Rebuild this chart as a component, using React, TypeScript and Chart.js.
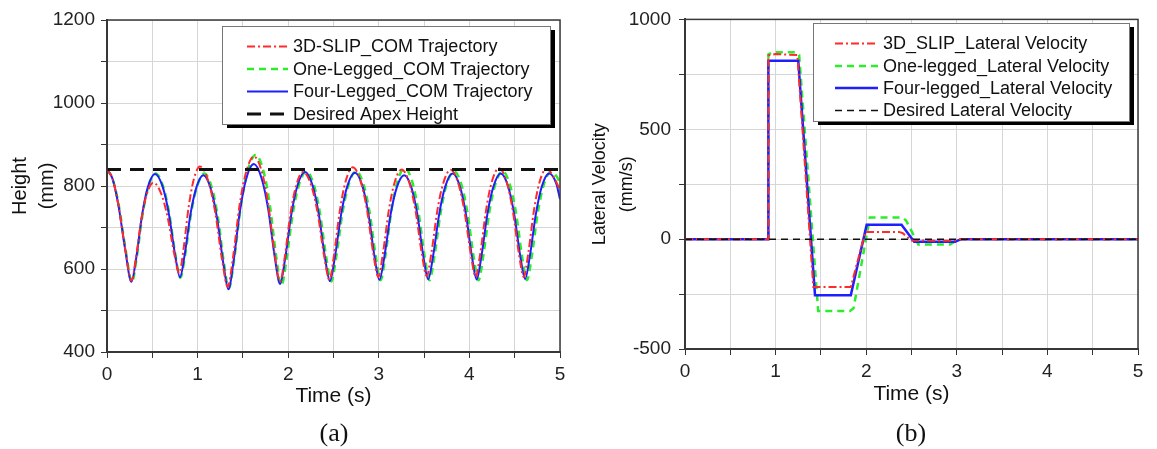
import React, { useEffect, useRef } from 'react';
import { Chart, registerables } from 'chart.js';

Chart.register(...registerables);

// ---------- (a) COM height ----------
const slipT = [0, 0.06, 0.125, 0.2, 0.27, 0.318, 0.378, 0.439, 0.511, 0.597, 0.669, 0.741, 0.798, 0.844, 0.901, 0.958, 1.026, 1.118, 1.194, 1.271, 1.332, 1.39, 1.462, 1.535, 1.622, 1.708, 1.78, 1.852, 1.91, 1.961, 2.025, 2.089, 2.165, 2.252, 2.325, 2.397, 2.455, 2.506, 2.571, 2.635, 2.712, 2.797, 2.868, 2.938, 2.995, 3.046, 3.111, 3.175, 3.252, 3.335, 3.404, 3.473, 3.528, 3.581, 3.647, 3.713, 3.792, 3.875, 3.944, 4.014, 4.069, 4.121, 4.185, 4.25, 4.327, 4.409, 4.477, 4.545, 4.6, 4.65, 4.713, 4.775, 4.85, 4.93, 5.0];
const slipH = [840, 818, 755, 650, 572, 624, 718, 780, 808, 782, 725, 638, 590, 647, 749, 816, 847, 812, 737, 621, 557, 626, 752, 833, 871, 835, 756, 635, 569, 627, 733, 802, 834, 803, 735, 631, 574, 634, 742, 812, 845, 813, 745, 639, 581, 638, 742, 809, 840, 809, 742, 640, 583, 639, 742, 808, 839, 808, 741, 638, 581, 639, 743, 812, 843, 812, 743, 639, 581, 638, 742, 810, 841, 822, 790];

const oneLegT = [0, 0.06, 0.128, 0.205, 0.275, 0.327, 0.392, 0.457, 0.535, 0.618, 0.686, 0.755, 0.81, 0.863, 0.929, 0.996, 1.075, 1.156, 1.224, 1.291, 1.345, 1.404, 1.478, 1.552, 1.64, 1.726, 1.797, 1.868, 1.925, 1.98, 2.049, 2.118, 2.2, 2.283, 2.351, 2.42, 2.475, 2.53, 2.599, 2.668, 2.75, 2.831, 2.899, 2.966, 3.02, 3.073, 3.139, 3.206, 3.285, 3.368, 3.436, 3.505, 3.56, 3.614, 3.682, 3.749, 3.83, 3.911, 3.979, 4.046, 4.1, 4.153, 4.219, 4.286, 4.365, 4.446, 4.514, 4.581, 4.635, 4.688, 4.754, 4.821, 4.9, 4.96, 5.0];
const oneLegH = [840, 818, 756, 648, 568, 626, 730, 799, 830, 800, 735, 634, 579, 634, 735, 800, 830, 797, 725, 614, 553, 624, 753, 836, 875, 837, 755, 629, 560, 621, 731, 802, 835, 803, 734, 628, 570, 629, 735, 804, 836, 804, 736, 631, 573, 632, 740, 811, 843, 811, 740, 632, 573, 631, 735, 804, 835, 804, 735, 631, 573, 631, 736, 804, 836, 804, 736, 631, 573, 630, 735, 803, 834, 824, 808];

const fourLegT = [0, 0.06, 0.125, 0.2, 0.27, 0.322, 0.387, 0.452, 0.53, 0.613, 0.682, 0.751, 0.806, 0.857, 0.922, 0.986, 1.063, 1.146, 1.215, 1.285, 1.34, 1.396, 1.466, 1.536, 1.62, 1.707, 1.78, 1.852, 1.91, 1.965, 2.034, 2.103, 2.185, 2.268, 2.336, 2.405, 2.46, 2.515, 2.585, 2.654, 2.737, 2.818, 2.885, 2.952, 3.006, 3.061, 3.129, 3.198, 3.28, 3.36, 3.426, 3.492, 3.545, 3.599, 3.667, 3.734, 3.815, 3.895, 3.961, 4.027, 4.08, 4.133, 4.199, 4.266, 4.345, 4.426, 4.494, 4.561, 4.615, 4.668, 4.734, 4.801, 4.88, 4.96, 5.0];
const fourLegH = [840, 818, 755, 648, 569, 626, 730, 798, 829, 799, 734, 635, 580, 634, 733, 796, 826, 793, 722, 612, 551, 617, 738, 817, 853, 818, 743, 628, 564, 623, 731, 802, 834, 802, 734, 629, 571, 628, 733, 801, 832, 801, 734, 631, 574, 629, 730, 796, 826, 796, 731, 630, 575, 631, 733, 799, 830, 799, 733, 631, 575, 631, 733, 799, 830, 800, 733, 632, 576, 632, 733, 800, 830, 805, 768];

const apexT = [0, 5];
const apexH = [840, 840];

// ---------- (b) lateral velocity ----------
const slipVelT = [0, 0.92, 0.92, 1.0, 1.24, 1.416, 1.83, 1.99, 2.36, 2.4, 2.5, 2.96, 3.02, 5];
const slipVelV = [0, 0, 836, 842, 838, -218, -218, 33, 33, 28, -6, -8, 0, 0];

const oneLegVelT = [0, 0.92, 0.92, 0.96, 1.22, 1.26, 1.47, 1.82, 1.86, 2.04, 2.4, 2.44, 2.575, 2.925, 3.02, 5];
const oneLegVelV = [0, 0, 840, 850, 850, 838, -327, -327, -315, 98, 98, 85, -24, -24, 0, 0];

const fourLegVelT = [0, 0.92, 0.92, 1.25, 1.435, 1.83, 2.005, 2.39, 2.53, 2.98, 3.05, 5];
const fourLegVelV = [0, 0, 812, 812, -255, -255, 65, 65, -12, -12, 0, 0];

const desiredVelT = [0, 5];
const desiredVelV = [0, 0];

const legendA = ['3D-SLIP_COM Trajectory', 'One-Legged_COM Trajectory', 'Four-Legged_COM Trajectory', 'Desired Apex Height'];
const legendB = ['3D_SLIP_Lateral Velocity', 'One-legged_Lateral Velocity', 'Four-legged_Lateral Velocity', 'Desired Lateral Velocity'];

const SANS = '"Liberation Sans", Arial, sans-serif';
const RED = '#ff2b2b';
const GREEN = '#2cec2c';
const BLUE = '#1e1eff';
const BLACK = '#111111';

const pts = (t: number[], v: number[]) => t.map((x, i) => ({ x, y: v[i] }));

const framePlugin = {
  id: 'frame',
  afterDatasetsDraw(chart: any) {
    const { ctx, chartArea: a } = chart;
    ctx.save();
    ctx.strokeStyle = '#3a3a3a';
    ctx.lineWidth = 1.5;
    ctx.strokeRect(a.left, a.top, a.right - a.left, a.bottom - a.top);
    ctx.restore();
  },
};

function makeLegend(box: any) {
  return {
    id: 'boxLegend',
    afterDraw(chart: any) {
      const ctx = chart.ctx;
      ctx.save();
      ctx.fillStyle = '#000';
      ctx.fillRect(box.x + 5, box.y + 4, box.w, box.h);
      ctx.fillStyle = '#fff';
      ctx.fillRect(box.x, box.y, box.w, box.h);
      ctx.strokeStyle = '#777';
      ctx.lineWidth = 1;
      ctx.strokeRect(box.x + 0.5, box.y + 0.5, box.w, box.h);
      chart.data.datasets.forEach((ds: any, i: number) => {
        const y = box.rows[i];
        ctx.setLineDash(ds.borderDash || []);
        ctx.strokeStyle = ds.borderColor;
        ctx.lineWidth = ds.borderWidth;
        ctx.beginPath();
        ctx.moveTo(box.l0, y);
        ctx.lineTo(box.l1, y);
        ctx.stroke();
        ctx.setLineDash([]);
        ctx.fillStyle = '#111';
        ctx.font = `18px ${SANS}`;
        ctx.textAlign = 'left';
        ctx.textBaseline = 'middle';
        ctx.fillText(ds.label, box.tx, y + 1);
      });
      ctx.restore();
    },
  };
}

function buildConfig(p: any) {
  const tickFont = { family: SANS, size: 19 };
  return {
    type: 'line',
    data: { datasets: p.datasets },
    options: {
      animation: false,
      responsive: false,
      maintainAspectRatio: false,
      devicePixelRatio: 1,
      layout: { padding: { left: 0, right: p.padRight, top: p.top, bottom: 0 } },
      plugins: { legend: { display: false }, tooltip: { enabled: false } },
      elements: { point: { radius: 0 } },
      scales: {
        x: {
          type: 'linear',
          min: 0,
          max: 5,
          afterFit: (s: any) => { s.height = p.xHeight; },
          ticks: {
            stepSize: 0.5,
            autoSkip: false,
            maxRotation: 0,
            padding: 5,
            color: '#222',
            font: tickFont,
            callback: (v: any) => (Math.abs(v - Math.round(v)) < 1e-6 ? String(Math.round(v)) : ''),
          },
          grid: { color: '#d6d6d6', tickColor: '#333', tickLength: 6, lineWidth: 1 },
          border: { color: '#333', width: 2 },
          title: {
            display: true,
            text: 'Time (s)',
            color: '#111',
            font: { family: SANS, size: 21 },
            padding: { top: 0, bottom: p.xTitlePad },
          },
        },
        y: {
          type: 'linear',
          min: p.yMin,
          max: p.yMax,
          afterFit: (s: any) => { s.width = p.yWidth; },
          ticks: {
            stepSize: p.yStep,
            autoSkip: false,
            padding: p.yTickPad,
            color: '#222',
            font: tickFont,
            callback: (v: any) => (Math.round(v) % p.yLabelEvery === 0 ? String(Math.round(v)) : ''),
          },
          grid: { color: '#d6d6d6', tickColor: '#333', tickLength: 6, lineWidth: 1 },
          border: { color: '#333', width: 2 },
          title: {
            display: true,
            text: p.yTitle,
            color: '#111',
            font: { family: SANS, size: p.yTitleSize, lineHeight: p.yTitleLH },
            padding: { top: p.yTitlePad, bottom: 0 },
          },
        },
      },
    },
    plugins: [framePlugin, makeLegend(p.legend)],
  } as any;
}

function PlotCanvas({ left, width, params }: { left: number; width: number; params: any }) {
  const ref = useRef<HTMLCanvasElement>(null);
  useEffect(() => {
    const chart = new Chart(ref.current as HTMLCanvasElement, buildConfig(params));
    return () => chart.destroy();
  }, []);
  return (
    <canvas
      ref={ref}
      width={width}
      height={449}
      style={{ position: 'absolute', left, top: 0, width, height: 449 }}
    />
  );
}

const lineDs = (label: string, data: any, color: string, width: number, dash: number[], order: number, smooth: boolean) => ({
  label,
  data,
  borderColor: color,
  backgroundColor: color,
  borderWidth: width,
  borderDash: dash,
  fill: false,
  order,
  tension: smooth ? 0.4 : 0,
  cubicInterpolationMode: smooth ? 'monotone' : 'default',
  pointRadius: 0,
});

export default function App() {
  const paramsA = {
    top: 20,
    padRight: 20,
    xHeight: 97,
    xTitlePad: 40,
    yWidth: 107,
    yMin: 400,
    yMax: 1200,
    yStep: 100,
    yLabelEvery: 200,
    yTickPad: 6,
    yTitle: ['Height', '(mm)'],
    yTitleSize: 20,
    yTitleLH: 1.35,
    yTitlePad: 6.5,
    legend: { x: 222, y: 26, w: 328, h: 98, l0: 247, l1: 288, tx: 293, rows: [46.5, 69, 91.5, 114] },
    datasets: [
      lineDs(legendA[0], pts(slipT, slipH), RED, 2, [8, 3, 2, 3], 1, true),
      lineDs(legendA[1], pts(oneLegT, oneLegH), GREEN, 2.5, [7, 5], 3, true),
      lineDs(legendA[2], pts(fourLegT, fourLegH), BLUE, 2, [], 2, true),
      lineDs(legendA[3], pts(apexT, apexH), BLACK, 3, [14, 9], 0, false),
    ],
  };
  const paramsB = {
    top: 17,
    padRight: 19,
    xHeight: 100,
    xTitlePad: 42,
    yWidth: 105,
    yMin: -500,
    yMax: 1000,
    yStep: 250,
    yLabelEvery: 500,
    yTickPad: 8,
    yTitle: ['Lateral Velocity', '(mm/s)'],
    yTitleSize: 18,
    yTitleLH: 1.48,
    yTitlePad: 6.6,
    legend: { x: 233, y: 23, w: 316, h: 98, l0: 255, l1: 298, tx: 303, rows: [43.5, 66, 88, 110.5] },
    datasets: [
      lineDs(legendB[0], pts(slipVelT, slipVelV), RED, 2, [8, 3, 2, 3], 1, false),
      lineDs(legendB[1], pts(oneLegVelT, oneLegVelV), GREEN, 2.5, [7, 5], 3, false),
      lineDs(legendB[2], pts(fourLegVelT, fourLegVelV), BLUE, 2.5, [], 2, false),
      lineDs(legendB[3], pts(desiredVelT, desiredVelV), BLACK, 1.5, [7, 5], 0, false),
    ],
  };
  const caption: React.CSSProperties = {
    position: 'absolute',
    top: 418,
    width: 80,
    textAlign: 'center',
    fontFamily: '"Liberation Serif", "Times New Roman", serif',
    fontSize: 26,
    lineHeight: '30px',
    color: '#111',
  };
  return (
    <div style={{ position: 'absolute', left: 0, top: 0, width: 1157, height: 449, overflow: 'hidden', background: '#fff' }}>
      <PlotCanvas left={0} width={580} params={paramsA} />
      <PlotCanvas left={580} width={577} params={paramsB} />
      <div style={{ ...caption, left: 334 - 40 }}>(a)</div>
      <div style={{ ...caption, left: 911 - 40 }}>(b)</div>
    </div>
  );
}
